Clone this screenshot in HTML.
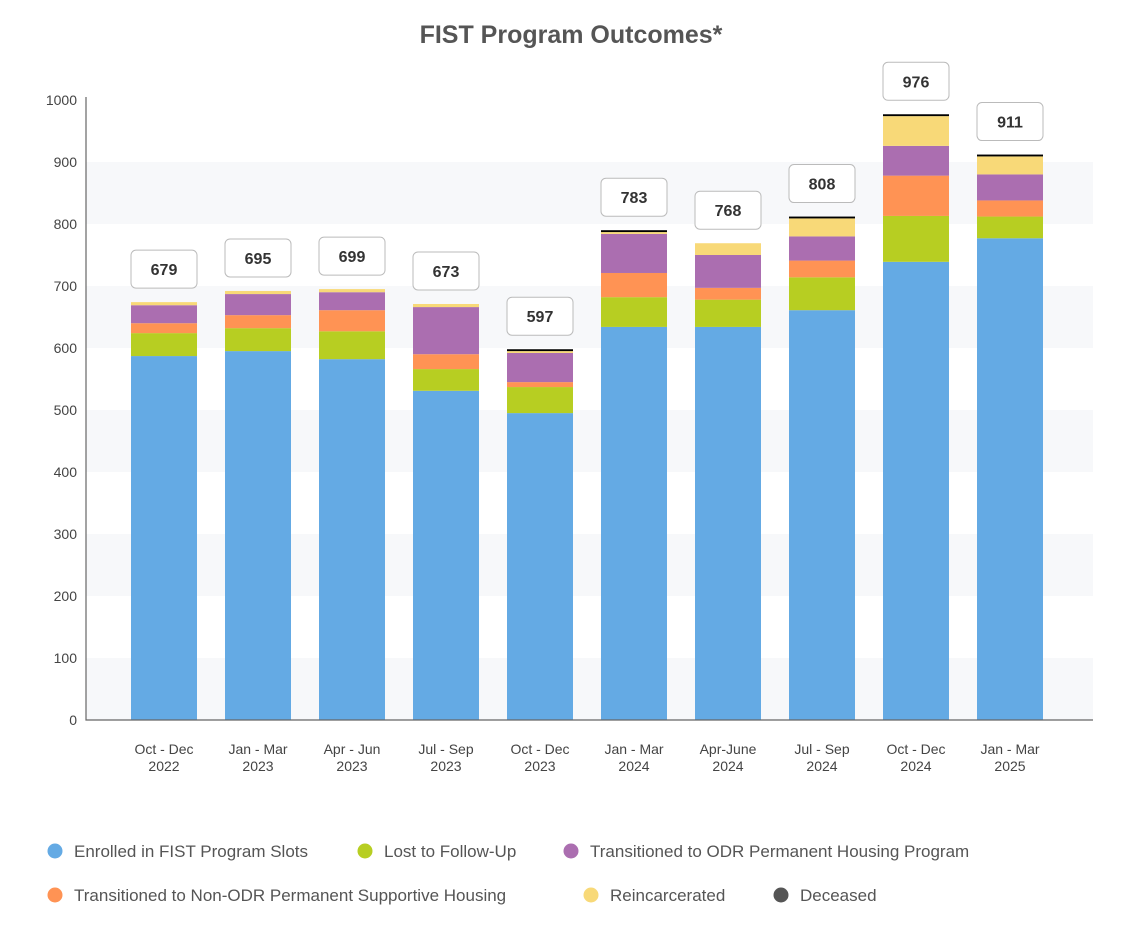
<!DOCTYPE html>
<html><head><meta charset="utf-8"><style>
body{margin:0;background:#fff;font-family:"Liberation Sans",sans-serif;}
svg text{font-family:"Liberation Sans",sans-serif;}
</style></head><body>
<svg width="1142" height="930" xmlns="http://www.w3.org/2000/svg">
<text x="571" y="43" text-anchor="middle" font-size="25" font-weight="bold" fill="#555">FIST Program Outcomes*</text>
<g id="grid"></g>
<g id="bars"></g>
<g id="axes"></g>
<g id="legend"></g>
</svg>
<script>
const categories=[["Oct - Dec","2022"],["Jan - Mar","2023"],["Apr - Jun","2023"],["Jul - Sep","2023"],["Oct - Dec","2023"],["Jan - Mar","2024"],["Apr-June","2024"],["Jul - Sep","2024"],["Oct - Dec","2024"],["Jan - Mar","2025"]];
const enrolled=[587,595,582,531,495,634,634,661,739,777];
const lost=[37,37,45,35,42,48,44,53,74,35];
const odr=[29,34,29,76,47,63,53,39,48,42];
const nonOdr=[16,21,34,24,8,39,19,27,65,26];
const reincarcerated=[5,5,5,5,3,3,19,29,48,29];
const deceased=[0,0,0,0,3,3,0,3,3,3];
const totals=[679,695,699,673,597,783,768,808,976,911];
const yTicks=[0,100,200,300,400,500,600,700,800,900,1000];
const seriesNames=["Enrolled in FIST Program Slots","Lost to Follow-Up","Transitioned to ODR Permanent Housing Program","Transitioned to Non-ODR Permanent Supportive Housing","Reincarcerated","Deceased"];
const NS="http://www.w3.org/2000/svg";
const x0=86,x1=1093,y0=720,yScale=0.62;
const y=v=>y0-v*yScale;
const xc=i=>164+i*94;
const bw=66;
function mk(tag,attrs,parent){const e=document.createElementNS(NS,tag);for(const k in attrs)e.setAttribute(k,attrs[k]);parent.appendChild(e);return e;}
const grid=document.getElementById('grid'),bars=document.getElementById('bars'),axes=document.getElementById('axes'),legend=document.getElementById('legend');
for(let i=0;i<yTicks.length-1;i+=2){const r=mk('rect',{x:x0,y:y(yTicks[i+1]),width:x1-x0,height:y(yTicks[i])-y(yTicks[i+1]),fill:'#f7f8fa'},grid);

}
yTicks.forEach(t=>{const tx=mk('text',{x:77,y:y(t)+5,'text-anchor':'end','font-size':14,fill:'#444'},axes);tx.textContent=t;

});
const ax=mk('path',{d:`M${x0} 97 V${y0} H${x1}`,stroke:'#666','stroke-width':1.2,fill:'none'},axes);


const series=[enrolled,lost,odr,nonOdr,reincarcerated,deceased];
const order=[0,1,3,2,4,5];
const colors=['#64aae4','#b7ce22','#ab6eb0','#ff9354','#f8d978','#000'];
categories.forEach((c,i)=>{
 let acc=0;
 order.forEach(s=>{const v=series[s][i];if(!v)return;
  const r=mk('rect',{x:xc(i)-bw/2,y:y(acc+v),width:bw,height:v*yScale,fill:colors[s]},bars);
  
  
  acc+=v;});
 const top=y(acc);
 const b=mk('rect',{x:xc(i)-33,y:top-52,width:66,height:38,rx:5,fill:'#fff',stroke:'#bbb'},bars);
 
 
 const t=mk('text',{x:xc(i),y:top-27,'text-anchor':'middle','font-size':16,'font-weight':'bold',fill:'#333'},bars);t.textContent=totals[i];
 
 
 c.forEach((l,k)=>{const tx=mk('text',{x:xc(i),y:754+k*17,'text-anchor':'middle','font-size':14,fill:'#444'},axes);tx.textContent=l;
 
 });
});
const legPos=[[55,851],[365,851],[571,851],[55,895],[591,895],[781,895]];
const legCol=['#64aae4','#b7ce22','#ab6eb0','#ff9354','#f8d978','#555'];
seriesNames.forEach((n,i)=>{const [lx,ly]=legPos[i];
 const g=mk('g',{},legend);
 
 
 mk('circle',{cx:lx,cy:ly,r:7.5,fill:legCol[i]},g);
 const t=mk('text',{x:lx+19,y:ly+6,'font-size':17,fill:'#555'},g);t.textContent=n;});
</script>
</body></html>
